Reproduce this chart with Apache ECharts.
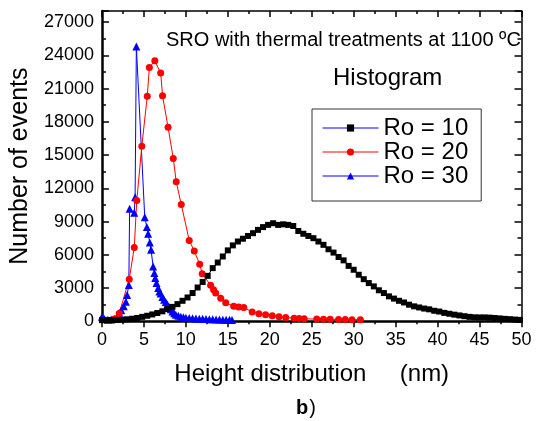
<!DOCTYPE html>
<html>
<head>
<meta charset="utf-8">
<script src="https://cdn.jsdelivr.net/npm/echarts@6/dist/echarts.min.js"></script>
<style>
html, body { margin: 0; padding: 0; background: #fff; }
#chart { width: 539px; height: 421px; }
</style>
</head>
<body>
<div id="chart"></div>
<script>
// height (nm), number of events
const ro10 = [
  [0, 100], [0.6, 100], [1.2, 110], [1.8, 120], [2.4, 150], [3.0, 180], [3.6, 230], [4.2, 300],
  [4.8, 400], [5.4, 500], [6.0, 620], [6.6, 750], [7.2, 900], [7.8, 1100], [8.4, 1300], [9.0, 1550],
  [9.6, 1850], [10.2, 2150], [10.8, 2550], [11.4, 3050], [12.0, 3550], [12.6, 4100], [13.2, 4800],
  [13.8, 5300], [14.4, 5850], [15.0, 6400], [15.6, 6850], [16.2, 7200], [16.8, 7450], [17.4, 7700],
  [18.0, 7950], [18.6, 8250], [19.2, 8500], [19.8, 8700], [20.4, 8850], [21.0, 8700], [21.6, 8750],
  [22.2, 8700], [22.8, 8600], [23.4, 8150], [24.0, 7900], [24.6, 7700], [25.2, 7500], [25.8, 7200],
  [26.4, 6900], [27.0, 6500], [27.6, 6200], [28.2, 5800], [28.8, 5500], [29.4, 5000], [30.0, 4650],
  [30.6, 4200], [31.2, 3800], [31.8, 3450], [32.4, 3150], [33.0, 2800], [33.6, 2550], [34.2, 2250],
  [34.8, 2050], [35.4, 1850], [36.0, 1700], [36.6, 1500], [37.2, 1350], [37.8, 1250], [38.4, 1150],
  [39.0, 1080], [39.6, 950], [40.2, 880], [40.8, 760], [41.4, 680], [42.0, 600], [42.6, 530],
  [43.2, 460], [43.8, 400], [44.4, 360], [45.0, 350], [45.6, 350], [46.2, 330], [46.8, 300],
  [47.4, 260], [48.0, 220], [48.6, 190], [49.2, 160], [49.8, 130]
];
const ro20 = [
  [0.9, 80], [1.5, 200], [2.05, 700], [3.25, 3800], [3.85, 6650], [4.15, 10900], [4.75, 15800],
  [5.4, 20300], [5.65, 22900], [6.3, 23500], [7.0, 22400], [7.22, 20350], [7.88, 17500], [8.5, 14700],
  [8.85, 12600], [9.45, 10550], [10.4, 7300], [11.0, 6350], [11.65, 5150], [11.95, 4300], [12.95, 3250],
  [13.3, 2850], [13.55, 2550], [14.15, 2080], [14.75, 1680], [15.7, 1350], [16.3, 1300], [16.9, 1250],
  [17.9, 850], [18.7, 680], [19.5, 580], [20.3, 500], [21.1, 420], [21.9, 350], [22.9, 280], [23.5, 260],
  [24.1, 220], [25.6, 200], [26.4, 190], [27.2, 180], [28.2, 170], [29.0, 160], [29.8, 150], [30.8, 140]
];
const ro30 = [
  [0, 400], [0.3, 200], [0.7, 150], [1.1, 160], [1.5, 220], [1.8, 380], [2.05, 780], [2.3, 1000],
  [2.6, 1350], [2.85, 1770], [3.0, 2370], [3.2, 3280], [3.3, 10150], [3.85, 9800], [3.95, 11200],
  [4.1, 24800], [5.1, 9400], [5.35, 8500], [5.5, 7900], [5.7, 7100], [5.85, 6450], [6.1, 4950],
  [6.25, 4350], [6.35, 3900], [6.5, 3450], [6.7, 3000], [6.85, 2700], [7.0, 2500], [7.2, 2200],
  [7.4, 1950], [7.6, 1750], [7.8, 1520], [8.0, 1300], [8.2, 1080], [8.4, 880], [8.6, 720], [8.8, 600],
  [9.1, 500], [9.4, 420], [9.7, 370], [10.0, 330], [10.4, 300], [10.8, 280], [11.2, 260], [11.6, 240],
  [12.0, 220], [12.4, 200], [12.8, 190], [13.2, 180], [13.6, 170], [14.0, 160], [14.4, 150],
  [14.8, 140], [15.2, 130], [15.5, 120]
];
const seriesNames = ['Ro = 10', 'Ro = 20', 'Ro = 30'];

const font = 'Liberation Sans, Arial, sans-serif';

const chart = echarts.init(document.getElementById('chart'));

function baseX(pos) {
  return {
    type: 'value', min: 0, max: 50, interval: 5, position: pos,
    axisLine: { onZero: false, lineStyle: { color: '#000', width: pos === 'bottom' ? 2.5 : 1.5 } },
    axisTick: { inside: pos !== 'bottom', length: 6, lineStyle: { color: '#000', width: 1.5 } },
    minorTick: { show: true, splitNumber: 2, length: 3, lineStyle: { color: '#000', width: 1.5 } },
    splitLine: { show: false },
    axisLabel: { show: pos === 'bottom', color: '#000', fontSize: 18, fontFamily: font, margin: 10 }
  };
}
function baseY(pos) {
  return {
    type: 'value', min: 0, max: 28000, interval: 3000, position: pos,
    axisLine: { onZero: false, lineStyle: { color: '#000', width: pos === 'left' ? 2.5 : 1.5 } },
    axisTick: { inside: true, length: 7, lineStyle: { color: '#000', width: 1.5 } },
    minorTick: { show: true, splitNumber: 2, length: 4, lineStyle: { color: '#000', width: 1.5 } },
    splitLine: { show: false },
    axisLabel: { show: pos === 'left', color: '#000', fontSize: 18, fontFamily: font, margin: 8,
      showMaxLabel: false, formatter: (v) => String(v) }
  };
}

const xBottom = baseX('bottom');
xBottom.name = 'Height distribution     (nm)';
xBottom.nameLocation = 'middle';
xBottom.nameGap = 41;
xBottom.nameTextStyle = { color: '#000', fontSize: 24, fontFamily: font };

const yLeft = baseY('left');
yLeft.name = 'Number of events';
yLeft.nameLocation = 'middle';
yLeft.nameGap = 66;
yLeft.nameTextStyle = { color: '#000', fontSize: 25, fontFamily: font };

chart.setOption({
  animation: false,
  backgroundColor: '#fff',
  title: [
    { text: 'SRO with thermal treatments at 1100 ºC', left: 166, top: 30, padding: 0,
      textStyle: { color: '#000', fontSize: 20, fontWeight: 'normal', fontFamily: font } },
    { text: 'Histogram', left: 333, top: 66, padding: 0,
      textStyle: { color: '#000', fontSize: 24, fontWeight: 'normal', fontFamily: font } },
    { text: '{b|b}{p|)}', left: 296, top: 398, padding: 0,
      textStyle: { rich: {
        b: { color: '#000', fontSize: 20, fontWeight: 'bold', fontFamily: font },
        p: { color: '#000', fontSize: 20, fontWeight: 'normal', fontFamily: font, padding: [0, 0, 0, 1] }
      } } }
  ],
  grid: { left: 101, top: 11, right: 17.5, bottom: 99.7 },
  legend: {
    orient: 'vertical', left: 312, top: 109,
    padding: [7, 13, 13, 10],
    itemWidth: 56, itemHeight: 9, itemGap: 0,
    borderColor: '#333', borderWidth: 1, backgroundColor: '#fff',
    textStyle: { color: '#000', fontSize: 24, fontFamily: font, lineHeight: 23 },
    data: [
      { name: seriesNames[0], lineStyle: { color: '#0000ff', width: 1 } },
      { name: seriesNames[1], lineStyle: { color: '#ff0000', width: 1 } },
      { name: seriesNames[2], lineStyle: { color: '#0000ff', width: 1 } }
    ]
  },
  xAxis: [xBottom, baseX('top')],
  yAxis: [yLeft, baseY('right')],
  series: [
    { name: seriesNames[2], type: 'line', data: ro30, symbol: 'triangle', symbolSize: 8,
      itemStyle: { color: '#0000ff' }, lineStyle: { color: '#0000ff', width: 1 } },
    { name: seriesNames[1], type: 'line', data: ro20, symbol: 'circle', symbolSize: 7,
      itemStyle: { color: '#ff0000' }, lineStyle: { color: '#ff0000', width: 1 } },
    { name: seriesNames[0], type: 'line', data: ro10, symbol: 'rect', symbolSize: 6,
      itemStyle: { color: '#000' }, lineStyle: { color: '#000', width: 1 } }
  ]
});
</script>
</body>
</html>
